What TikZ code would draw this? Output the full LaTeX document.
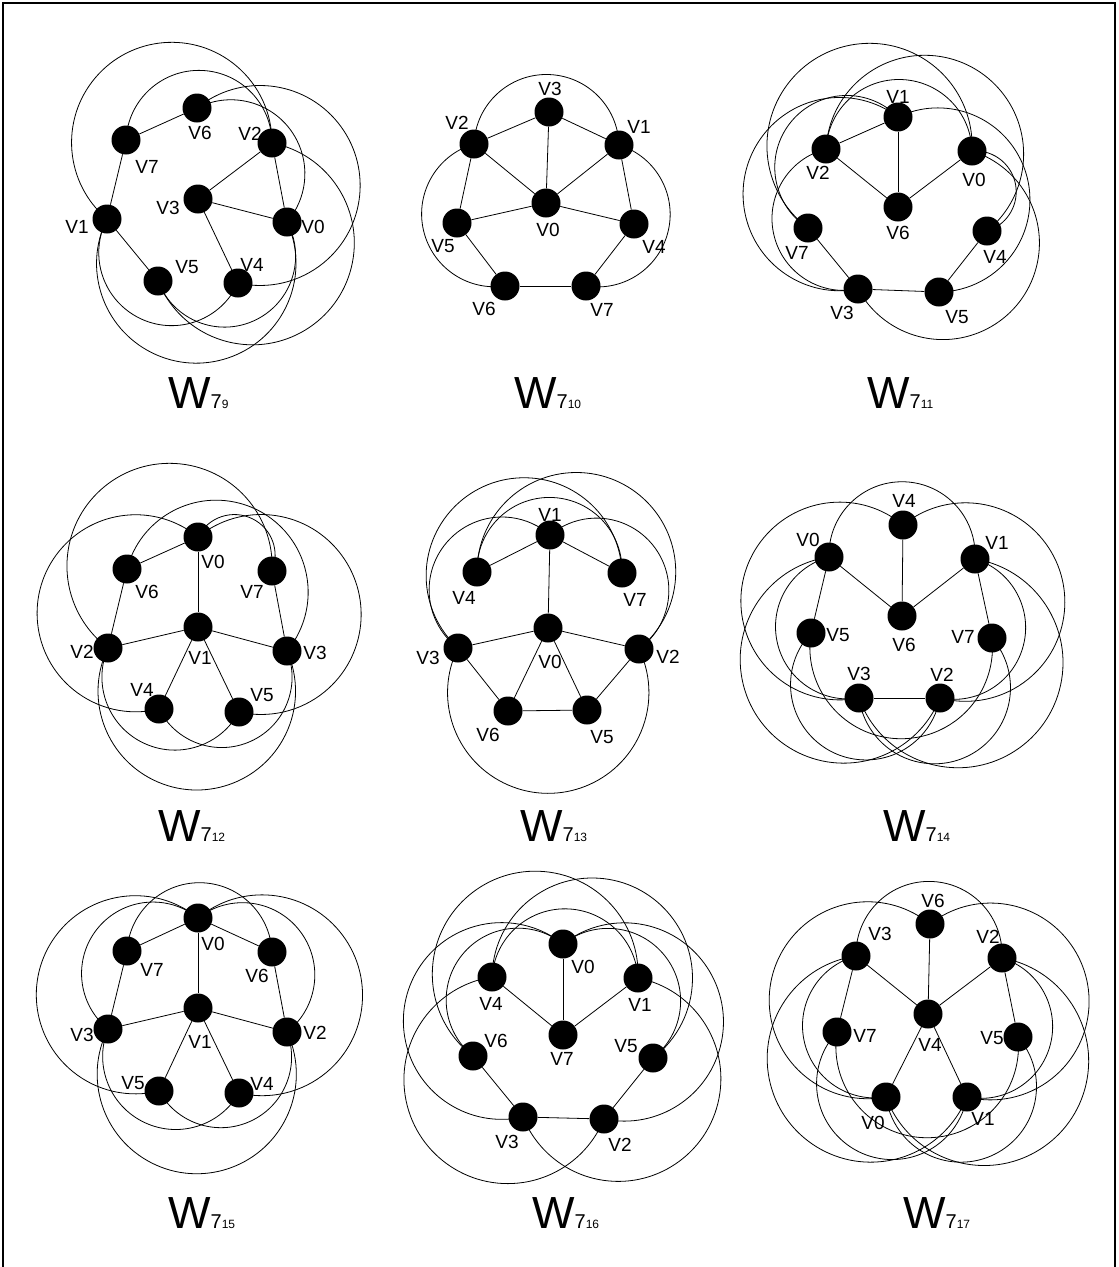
\documentclass[tikz,border=0pt]{standalone}
\usepackage{fontspec}
\setmainfont{Liberation Sans}
\usetikzlibrary{calc}

\tikzset{
  vtx/.style={circle,fill=black,minimum size=29pt,inner sep=0pt},
  vlbl/.style={inner sep=0pt,font=\fontsize{19}{19}\selectfont},
  wire/.style={line width=0.8pt},
  ttl/.style={anchor=base west,inner sep=0pt,font=\fontsize{45}{45}\selectfont},
  % circular arc from node to node, #1 = swept angle
  arcedge/.style={to path={let \p1=(\tikztostart),\p2=(\tikztotarget),
    \n1={atan2(\y2-\y1,\x2-\x1)},
    \n2={veclen(\x2-\x1,\y2-\y1)/(2*sin(abs(#1)/2))} in
    arc[start angle={\n1-(#1)/2-90*sign(#1)},delta angle={#1},radius=\n2]}}
}
\newcommand{\wsub}[1]{W{\fontsize{20}{20}\selectfont 7}{\fontsize{12}{12}\selectfont #1}}

\begin{document}
\begin{tikzpicture}[x=1pt,y=-1pt]
  \useasboundingbox (0,0) rectangle (1119,1267);
  % frame
  \draw[line width=2.2pt] (3,1267) -- (3,3) -- (1115,3) -- (1115,1267);

  % W7_9
  \foreach \n/\x/\y/\lx/\ly in {0/287/222/313/227,1/107/219/77/227,2/272/143/250/134,3/198/199/168/208,
      4/238/283/252/265,5/158/281/187/267,6/197/108/200/133,7/126/140/147/167}{
    \node[vtx] (a\n) at (\x,\y) {};
    \node[vlbl] (la\n) at (\lx,\ly) {V\n};
  }
  \foreach \s/\t in {7/6,7/1,1/5,2/0,2/3,3/0,3/4}
    \draw[wire] (a\s) -- (a\t);
  \foreach \s/\t/\w in {1/2/-230,7/2/-177,6/0/-158,6/4/-232,2/5/-237,1/0/231,5/0/188,4/1/-183}
    \draw[wire] (a\s) to[arcedge=\w] (a\t);
  \node[ttl] (t9) at (168,408) {\wsub{9}};

  % W7_10
  \foreach \n/\x/\y/\lx/\ly in {0/546/203/548/230,1/619/145/639/127,2/474/144/457/123,3/549/112/550/89,
      4/634/224/654/247,5/457/223/443/246,6/505/286/484/309,7/586/286/602/310}{
    \node[vtx] (b\n) at (\x,\y) {};
    \node[vlbl] (lb\n) at (\lx,\ly) {V\n};
  }
  \foreach \s/\t in {2/3,3/1,3/0,2/0,0/1,2/5,5/0,0/4,1/4,5/6,6/7,7/4}
    \draw[wire] (b\s) -- (b\t);
  \foreach \s/\t/\w in {2/1/-176,2/6/172,1/7/-172}
    \draw[wire] (b\s) to[arcedge=\w] (b\t);
  \node[ttl] (t10) at (514,408) {\wsub{10}};

  % W7_11
  \foreach \n/\x/\y/\lx/\ly in {0/972/151/974/180,1/898/117/898/97,2/826/149/818/173,3/858/289/842/313,
      4/987/231/995/257,5/939/292/957/317,6/898/207/898/233,7/808/228/797/253}{
    \node[vtx] (c\n) at (\x,\y) {};
    \node[vlbl] (lc\n) at (\lx,\ly) {V\n};
  }
  \foreach \s/\t in {2/1,1/6,2/6,6/0,7/3,3/5,5/4}
    \draw[wire] (c\s) -- (c\t);
  \foreach \s/\t/\w in {2/0/-176,2/4/-228,7/0/-236,1/5/-205,0/4/-168,0/3/-224,3/1/-228,7/1/-193,2/3/177}
    \draw[wire] (c\s) to[arcedge=\w] (c\t);
  \node[ttl] (t11) at (867,408) {\wsub{11}};

  % W7_12
  \foreach \n/\x/\y/\lx/\ly in {0/198/537/213/562,1/198/627/200/658,2/108/648/82/652,3/287/651/315/653,
      4/159/709/142/690,5/239/712/262/695,6/127/569/147/592,7/272/571/252/592}{
    \node[vtx] (d\n) at (\x,\y) {};
    \node[vlbl] (ld\n) at (\lx,\ly) {V\n};
  }
  \foreach \s/\t in {0/6,0/1,6/2,7/3,2/1,1/3,1/4,1/5}
    \draw[wire] (d\s) -- (d\t);
  \foreach \s/\t/\w in {0/4/233,0/5/-232,7/2/236,6/3/-205,2/3/230,2/5/175,3/4/-175,0/7/-176}
    \draw[wire] (d\s) to[arcedge=\w] (d\t);
  \node[ttl] (t12) at (158,841) {\wsub{12}};

  % W7_13
  \foreach \n/\x/\y/\lx/\ly in {0/548/628/550/662,1/550/535/550/515,2/639/649/668/657,3/458/648/428/658,
      4/477/572/464/598,5/587/710/602/737,6/508/711/488/735,7/622/573/635/600}{
    \node[vtx] (e\n) at (\x,\y) {};
    \node[vlbl] (le\n) at (\lx,\ly) {V\n};
  }
  \foreach \s/\t in {1/4,1/7,1/0,0/3,0/2,0/6,0/5,3/6,6/5,5/2}
    \draw[wire] (e\s) -- (e\t);
  \foreach \s/\t/\w in {4/7/-184,4/2/-231,7/3/226,3/1/-184,2/1/184,3/2/232}
    \draw[wire] (e\s) to[arcedge=\w] (e\t);
  \node[ttl] (t13) at (520,841) {\wsub{13}};

  % W7_14
  \foreach \n/\x/\y/\lx/\ly in {0/829/557/808/540,1/975/559/997/543,2/940/698/942/675,3/859/698/859/674,
      4/903/525/904/501,5/811/633/838/635,6/902/616/904/645,7/992/638/963/637}{
    \node[vtx] (f\n) at (\x,\y) {};
    \node[vlbl] (lf\n) at (\lx,\ly) {V\n};
  }
  \foreach \s/\t in {4/6,0/6,1/6,0/5,1/7,3/2}
    \draw[wire] (f\s) -- (f\t);
  \foreach \s/\t/\w in {0/1/-185,4/3/231,4/2/-234,0/2/240,1/3/-241,0/3/174,1/2/-174,5/2/213,7/3/-213,5/7/195}
    \draw[wire] (f\s) to[arcedge=\w] (f\t);
  \node[ttl] (t14) at (883,841) {\wsub{14}};

  % W7_15
  \foreach \n/\x/\y/\lx/\ly in {0/198/918/213/944,1/198/1008/200/1042,2/287/1032/315/1033,3/108/1029/82/1035,
      4/239/1093/262/1084,5/159/1091/133/1083,6/272/952/257/976,7/127/951/152/970}{
    \node[vtx] (g\n) at (\x,\y) {};
    \node[vlbl] (lg\n) at (\lx,\ly) {V\n};
  }
  \foreach \s/\t in {0/7,0/6,0/1,7/3,6/2,3/1,1/2,1/5,1/4}
    \draw[wire] (g\s) -- (g\t);
  \foreach \s/\t/\w in {0/5/233,0/4/-233,0/3/180,0/2/-180,7/6/-174,3/2/232,3/4/172,2/5/-172}
    \draw[wire] (g\s) to[arcedge=\w] (g\t);
  \node[ttl] (t15) at (168,1228) {\wsub{15}};

  % W7_16
  \foreach \n/\x/\y/\lx/\ly in {0/563/944/583/967,1/638/978/640/1005,2/604/1119/620/1145,3/523/1117/507/1142,
      4/492/977/491/1004,5/653/1058/626/1046,6/473/1056/496/1041,7/563/1035/562/1059}{
    \node[vtx] (h\n) at (\x,\y) {};
    \node[vlbl] (lh\n) at (\lx,\ly) {V\n};
  }
  \foreach \s/\t in {0/7,4/7,1/7,6/3,3/2,2/5}
    \draw[wire] (h\s) -- (h\t);
  \foreach \s/\t/\w in {4/1/-173,1/6/235,4/5/-232,0/6/180,0/5/-180,3/0/-231,2/0/230,4/2/239,1/3/-237}
    \draw[wire] (h\s) to[arcedge=\w] (h\t);
  \node[ttl] (t16) at (532,1228) {\wsub{16}};

  % W7_17
  \foreach \n/\x/\y/\lx/\ly in {0/886/1097/873/1123,1/967/1097/983/1119,2/1002/958/988/937,3/856/956/880/934,
      4/928/1014/930/1045,5/1018/1037/992/1038,6/930/924/933/901,7/837/1032/865/1036}{
    \node[vtx] (i\n) at (\x,\y) {};
    \node[vlbl] (li\n) at (\lx,\ly) {V\n};
  }
  \foreach \s/\t in {6/4,3/4,2/4,3/7,2/5,4/0,4/1}
    \draw[wire] (i\s) -- (i\t);
  \foreach \s/\t/\w in {3/2/-184,6/0/230,6/1/-232,3/1/240,2/0/-240,3/0/174,2/1/-174,7/1/213,5/0/-213,7/5/195}
    \draw[wire] (i\s) to[arcedge=\w] (i\t);
  \node[ttl] (t17) at (903,1228) {\wsub{17}};
\end{tikzpicture}
\end{document}
